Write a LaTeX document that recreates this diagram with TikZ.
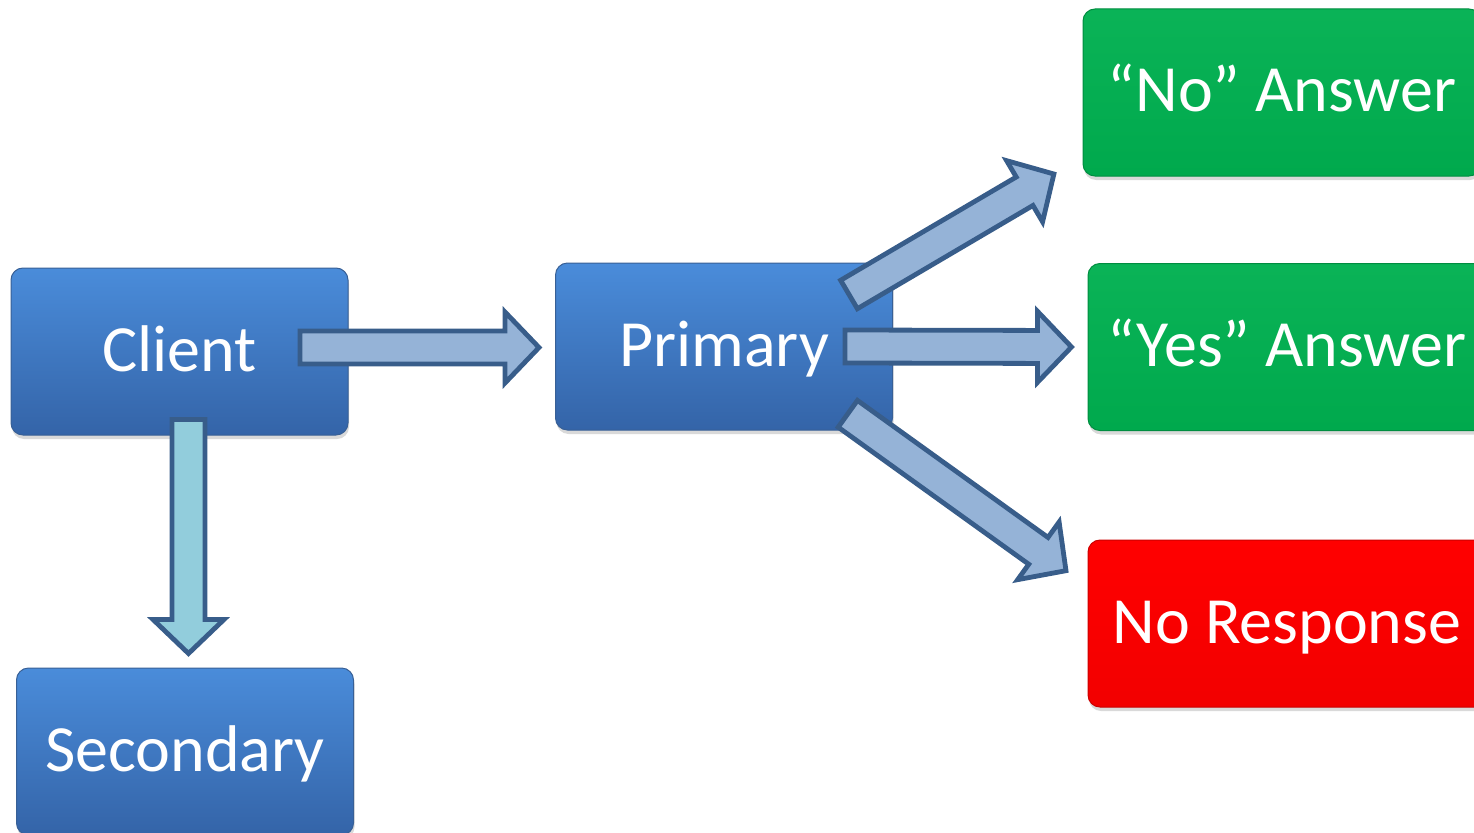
\documentclass[tikz,border=0pt]{standalone}
\usepackage{fontspec}
\setmainfont{Carlito}
\usepackage{tikz}
\usetikzlibrary{shadows}

\definecolor{boxtop}{RGB}{74,140,218}
\definecolor{boxbottom}{RGB}{52,100,168}
\definecolor{boxline}{RGB}{56,96,150}
\definecolor{greenfill}{RGB}{0,176,80}
\definecolor{redfill}{RGB}{255,0,0}
\definecolor{arrowfill}{RGB}{149,179,215}
\definecolor{arrowline}{RGB}{56,93,138}
\definecolor{downfill}{RGB}{146,205,220}

% a block arrow from #2 to #3, drawn with style #1
\newcommand{\blockarrow}[3]{%
  \path (#2); \pgfgetlastxy{\bax}{\bay}
  \path (#3); \pgfgetlastxy{\bbx}{\bby}
  \pgfmathsetmacro{\balen}{veclen(\bbx-\bax,\bby-\bay)}
  \pgfmathsetmacro{\baang}{atan2(\bby-\bay,\bbx-\bax)}
  \begin{scope}[shift={(\bax,\bay)},rotate=\baang,x=1pt,y=1pt]
    \draw[#1] (0,-16.5) -- (\balen-34,-16.5) -- (\balen-34,-35.5) -- (\balen,0)
      -- (\balen-34,35.5) -- (\balen-34,16.5) -- (0,16.5) -- cycle;
  \end{scope}
}

\tikzset{
  box/.style={rectangle,rounded corners=12pt,minimum height=167pt,inner sep=0pt,
    text=white,font=\fontsize{66}{70}\selectfont,text height=50pt,text depth=11pt,
    drop shadow={opacity=0.3,shadow xshift=1pt,shadow yshift=-4pt}},
  bluebox/.style={box,minimum width=337pt,top color=boxtop,bottom color=boxbottom,
    draw=boxline,line width=1pt},
  greenbox/.style={box,minimum width=398pt,top color=greenfill!96!white,
    bottom color=greenfill!96!black,draw=greenfill!80!black,line width=1pt},
  redbox/.style={box,minimum width=398pt,top color=redfill,
    bottom color=redfill!95!black,draw=redfill!80!black,line width=1pt},
  arrowbody/.style={fill=arrowfill,draw=arrowline,line width=4.8pt,line join=miter},
  downbody/.style={arrowbody,fill=downfill}
}

\begin{document}
\begin{tikzpicture}[x=1pt,y=-1pt]
\useasboundingbox (0,0) rectangle (1474,832);
% the boxes
\node[bluebox] (client) at (179.5,351.5) {Client};
\node[bluebox] (primary) at (724,346.5) {Primary};
\node[bluebox] (secondary) at (185,751.5) {Secondary};
\node[greenbox] (noanswer) at (1282,92.5) {“No” Answer};
\node[greenbox] (yesanswer) at (1287,347) {“Yes” Answer};
\node[redbox] (noresponse) at (1287,623.5) {No Response};
% the ends of the arrows
\coordinate (c2p-a) at ([xshift=-48.5pt,yshift=4pt]client.east);
\coordinate (c2p-b) at ([xshift=-16pt,yshift=-1pt]primary.west);
\coordinate (c2s-a) at ([xshift=9pt,yshift=16pt]client.south);
\coordinate (c2s-b) at ([xshift=3.5pt,yshift=14pt]secondary.north);
\coordinate (p2y-a) at ([xshift=-48pt]primary.east);
\coordinate (p2y-b) at ([xshift=-16pt]yesanswer.west);
\coordinate (p2n-a) at ([xshift=-44pt,yshift=-32pt]primary.north east);
\coordinate (p2n-b) at ([xshift=-28.6pt,yshift=2.5pt]noanswer.south west);
\coordinate (p2r-a) at ([xshift=-45.2pt,yshift=16.7pt]primary.south east);
\coordinate (p2r-b) at ([xshift=-21.5pt,yshift=-31.2pt]noresponse.north west);
% the arrows
\blockarrow{arrowbody}{c2p-a}{c2p-b}
\blockarrow{downbody}{c2s-a}{c2s-b}
\blockarrow{arrowbody}{p2y-a}{p2y-b}
\blockarrow{arrowbody}{p2n-a}{p2n-b}
\blockarrow{arrowbody}{p2r-a}{p2r-b}
\end{tikzpicture}
\end{document}
